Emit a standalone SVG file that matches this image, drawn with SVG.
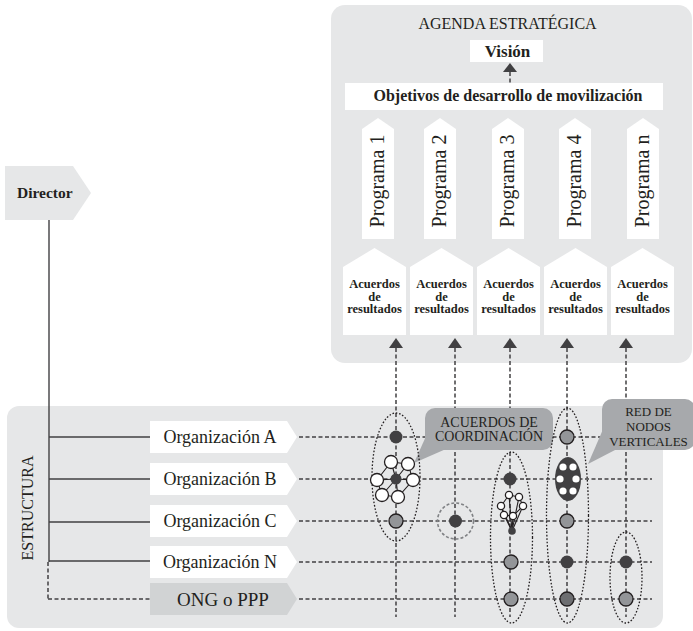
<svg xmlns="http://www.w3.org/2000/svg" width="693" height="631" viewBox="0 0 693 631">
<style>
text{font-family:"Liberation Serif","Times New Roman",serif;fill:#231f20}
.panel{fill:#e6e7e8}
.box{fill:#fff}
.b{font-weight:bold}
.dash{stroke:#414042;stroke-width:1.5;stroke-dasharray:4 2.5;fill:none}
.solid{stroke:#414042;stroke-width:1.4;fill:none}
.dot{stroke:#231f20;stroke-width:1.3;stroke-dasharray:1.6 1.8;fill:none}
.bub{fill:#a7a9ac}
.dk{fill:#414042}
.gr{fill:#939598;stroke:#231f20;stroke-width:1.3}
.gr2{fill:#6d6e71;stroke:#231f20;stroke-width:1.3}
.wh{fill:#fff;stroke:#231f20;stroke-width:1.3}
.net{stroke:#231f20;stroke-width:1.1;fill:none}
.ah{fill:#414042}
</style>

<!-- panels -->
<rect class="panel" x="331" y="5" width="361" height="358" rx="14"/>
<rect class="panel" x="7" y="406" width="656" height="222" rx="12"/>

<g id="agenda">
<text x="507.5" y="29" font-size="16" text-anchor="middle">AGENDA ESTRATÉGICA</text>
</g>
<g id="vision">
<rect class="box" x="470" y="40" width="73" height="22"/>
<text class="b" x="507.5" y="57" font-size="17" text-anchor="middle">Visión</text>
</g>
<g id="objetivos">
<rect class="box" x="345" y="83" width="318" height="27"/>
<text class="b" x="508" y="101" font-size="16" text-anchor="middle">Objetivos de desarrollo de movilización</text>
</g>

<g id="programa1"><polygon class="box" points="362,239 362,129 378,118 394,129 394,239"/><text transform="translate(384,181) rotate(-90)" font-size="20" text-anchor="middle">Programa 1</text></g>
<g id="programa2"><polygon class="box" points="424,239 424,129 440,118 456,129 456,239"/><text transform="translate(446,181) rotate(-90)" font-size="20" text-anchor="middle">Programa 2</text></g>
<g id="programa3"><polygon class="box" points="492,239 492,129 508,118 524,129 524,239"/><text transform="translate(514,181) rotate(-90)" font-size="20" text-anchor="middle">Programa 3</text></g>
<g id="programa4"><polygon class="box" points="559,239 559,129 575,118 591,129 591,239"/><text transform="translate(581,181) rotate(-90)" font-size="20" text-anchor="middle">Programa 4</text></g>
<g id="programan"><polygon class="box" points="627,239 627,129 643,118 659,129 659,239"/><text transform="translate(649,181) rotate(-90)" font-size="20" text-anchor="middle">Programa n</text></g>

<g id="acuerdos1"><polygon class="box" points="343,335 343,267 374.5,248 406,267 406,335"/><text class="b" font-size="12.5" text-anchor="middle"><tspan x="374.5" y="288">Acuerdos</tspan><tspan x="374.5" y="300.5">de</tspan><tspan x="374.5" y="313">resultados</tspan></text></g>
<g id="acuerdos2"><polygon class="box" points="410,335 410,267 441.5,248 473,267 473,335"/><text class="b" font-size="12.5" text-anchor="middle"><tspan x="441.5" y="288">Acuerdos</tspan><tspan x="441.5" y="300.5">de</tspan><tspan x="441.5" y="313">resultados</tspan></text></g>
<g id="acuerdos3"><polygon class="box" points="477,335 477,267 508.5,248 540,267 540,335"/><text class="b" font-size="12.5" text-anchor="middle"><tspan x="508.5" y="288">Acuerdos</tspan><tspan x="508.5" y="300.5">de</tspan><tspan x="508.5" y="313">resultados</tspan></text></g>
<g id="acuerdos4"><polygon class="box" points="544,335 544,267 575.5,248 607,267 607,335"/><text class="b" font-size="12.5" text-anchor="middle"><tspan x="575.5" y="288">Acuerdos</tspan><tspan x="575.5" y="300.5">de</tspan><tspan x="575.5" y="313">resultados</tspan></text></g>
<g id="acuerdos5"><polygon class="box" points="611,335 611,267 642.5,248 674,267 674,335"/><text class="b" font-size="12.5" text-anchor="middle"><tspan x="642.5" y="288">Acuerdos</tspan><tspan x="642.5" y="300.5">de</tspan><tspan x="642.5" y="313">resultados</tspan></text></g>

<g id="director">
<polygon class="panel" points="5,166 73,166 91,193 73,220 5,220"/>
<text class="b" x="17" y="198" font-size="15.5">Director</text>
</g>

<g id="estructura">
<text transform="translate(33,508) rotate(-90)" font-size="16" text-anchor="middle">ESTRUCTURA</text>
</g>

<g id="orgA"><polygon class="box" points="150,421 287,421 297,437 287,453 150,453"/><text x="220" y="443" font-size="18" text-anchor="middle">Organización A</text></g>
<g id="orgB"><polygon class="box" points="150,463 287,463 297,479 287,495 150,495"/><text x="220" y="485" font-size="18" text-anchor="middle">Organización B</text></g>
<g id="orgC"><polygon class="box" points="150,505 287,505 297,521 287,537 150,537"/><text x="220" y="527" font-size="18" text-anchor="middle">Organización C</text></g>
<g id="orgN"><polygon class="box" points="150,546 287,546 297,562 287,578 150,578"/><text x="220" y="568" font-size="18" text-anchor="middle">Organización N</text></g>
<g id="ong"><polygon fill="#d1d3d4" points="150,583 287,583 297,599 287,615 150,615"/><text x="223" y="606" font-size="19" text-anchor="middle">ONG o PPP</text></g>

<g id="connectors">
<!-- vision arrow -->
<line class="dash" x1="510" y1="72" x2="510" y2="83" stroke-dasharray="3 2"/>
<polygon class="ah" points="510,63 503,72 517,72"/>
<!-- director tree -->
<line class="solid" x1="49" y1="220" x2="49" y2="562"/>
<line class="solid" x1="49" y1="437" x2="150" y2="437"/>
<line class="solid" x1="49" y1="479" x2="150" y2="479"/>
<line class="solid" x1="49" y1="522" x2="150" y2="522"/>
<line class="solid" x1="49" y1="561" x2="150" y2="561"/>
<line class="dash" x1="48" y1="562" x2="48" y2="599" stroke-dasharray="2 1.5" stroke-width="1.3"/>
<line class="dash" x1="48" y1="599" x2="150" y2="599"/>
<!-- horizontal row lines -->
<line class="dash" x1="299" y1="437" x2="652" y2="437"/>
<line class="dash" x1="299" y1="479" x2="652" y2="479"/>
<line class="dash" x1="299" y1="521" x2="652" y2="521"/>
<line class="dash" x1="299" y1="562" x2="652" y2="562"/>
<line class="dash" x1="299" y1="599" x2="652" y2="599"/>
<!-- vertical program lines -->
<line class="dash" x1="396" y1="348" x2="396" y2="617"/>
<line class="dash" x1="455" y1="348" x2="455" y2="617"/>
<line class="dash" x1="510" y1="348" x2="510" y2="617"/>
<line class="dash" x1="567" y1="348" x2="567" y2="617"/>
<line class="dash" x1="626" y1="348" x2="626" y2="617"/>
<polygon class="ah" points="396,338 389,348 403,348"/>
<polygon class="ah" points="455,338 448,348 462,348"/>
<polygon class="ah" points="510,338 503,348 517,348"/>
<polygon class="ah" points="567,338 560,348 574,348"/>
<polygon class="ah" points="626,338 619,348 633,348"/>
</g>

<g id="bubble-coordinacion">
<rect class="bub" x="425" y="408" width="128" height="42" rx="10"/>
<polygon class="bub" points="427,434 446,449 414,463"/>
<text font-size="14" text-anchor="middle"><tspan x="489" y="427">ACUERDOS DE</tspan><tspan x="489" y="441">COORDINACIÓN</tspan></text>
</g>
<g id="bubble-red">
<rect class="bub" x="602" y="399" width="93" height="51" rx="10"/>
<polygon class="bub" points="604,427 617,449 588,464"/>
<text font-size="13" text-anchor="middle"><tspan x="648.5" y="416">RED DE</tspan><tspan x="648.5" y="431">NODOS</tspan><tspan x="648.5" y="446">VERTICALES</tspan></text>
</g>

<g id="grupos">
<ellipse class="dot" cx="396" cy="477" rx="24" ry="64"/>
<circle cx="455.5" cy="521" r="18" fill="none" stroke="#808285" stroke-width="1.6" stroke-dasharray="3 2"/>
<ellipse class="dot" cx="511.5" cy="537.5" rx="21" ry="85.5"/>
<ellipse class="dot" cx="567.5" cy="515.5" rx="21" ry="107.5"/>
<ellipse class="dot" cx="626" cy="577.5" rx="16" ry="45.5"/>
</g>

<g id="col1">
<circle class="dk" cx="396" cy="437" r="6.5"/>
<g class="net">
<polyline points="391,462 408,464 413,480 398,497 382,495 377,480 391,462"/>
<line x1="396" y1="479" x2="391" y2="462"/>
<line x1="396" y1="479" x2="408" y2="464"/>
<line x1="396" y1="479" x2="413" y2="480"/>
<line x1="396" y1="479" x2="398" y2="497"/>
<line x1="396" y1="479" x2="382" y2="495"/>
<line x1="396" y1="479" x2="377" y2="480"/>
</g>
<circle class="dk" cx="396" cy="479" r="5.5"/>
<circle class="wh" cx="391" cy="462" r="6.5"/>
<circle class="wh" cx="408" cy="464" r="6.5"/>
<circle class="wh" cx="377" cy="480" r="6.5"/>
<circle class="wh" cx="413" cy="480" r="6.5"/>
<circle class="wh" cx="382" cy="495" r="6.5"/>
<circle class="wh" cx="398" cy="497" r="6.5"/>
<circle class="gr" cx="396" cy="521" r="7"/>
</g>

<g id="col2">
<circle class="dk" cx="455.5" cy="521" r="6.5"/>
</g>

<g id="col3">
<circle class="dk" cx="510" cy="479" r="6.5"/>
<g class="net" stroke-width="0.9">
<polyline points="501,506 509,495 519,497 523,506 513,516 504,515 501,506"/>
<line x1="512" y1="531" x2="509" y2="495"/>
<line x1="512" y1="531" x2="519" y2="497"/>
<line x1="512" y1="531" x2="501" y2="506"/>
<line x1="512" y1="531" x2="523" y2="506"/>
<line x1="512" y1="531" x2="504" y2="515"/>
<line x1="512" y1="531" x2="513" y2="516"/>
</g>
<circle class="wh" cx="509" cy="495" r="3.6" stroke-width="1"/>
<circle class="wh" cx="519" cy="497" r="3.6" stroke-width="1"/>
<circle class="wh" cx="501" cy="506" r="3.6" stroke-width="1"/>
<circle class="wh" cx="523" cy="506" r="3.6" stroke-width="1"/>
<circle class="wh" cx="504" cy="515" r="3.6" stroke-width="1"/>
<circle class="wh" cx="513" cy="516" r="3.6" stroke-width="1"/>
<circle class="dk" cx="512" cy="531" r="3.8"/>
<circle class="gr" cx="511" cy="562" r="7"/>
<circle class="gr" cx="511" cy="599" r="7"/>
</g>

<g id="col4">
<circle class="gr" cx="567" cy="437" r="7"/>
<ellipse class="dk" cx="568" cy="479" rx="13" ry="22"/>
<circle cx="563" cy="467" r="3.6" fill="#fff"/>
<circle cx="573" cy="467" r="3.6" fill="#fff"/>
<circle cx="560" cy="479" r="3.6" fill="#fff"/>
<circle cx="576" cy="479" r="3.6" fill="#fff"/>
<circle cx="563" cy="491" r="3.6" fill="#fff"/>
<circle cx="573" cy="491" r="3.6" fill="#fff"/>
<circle class="gr" cx="567" cy="521" r="7"/>
<circle class="dk" cx="567" cy="562" r="6.5"/>
<circle class="gr2" cx="567" cy="599" r="7"/>
</g>

<g id="col5">
<circle class="dk" cx="626" cy="562" r="6.5"/>
<circle class="gr" cx="626" cy="599" r="7"/>
</g>
</svg>
